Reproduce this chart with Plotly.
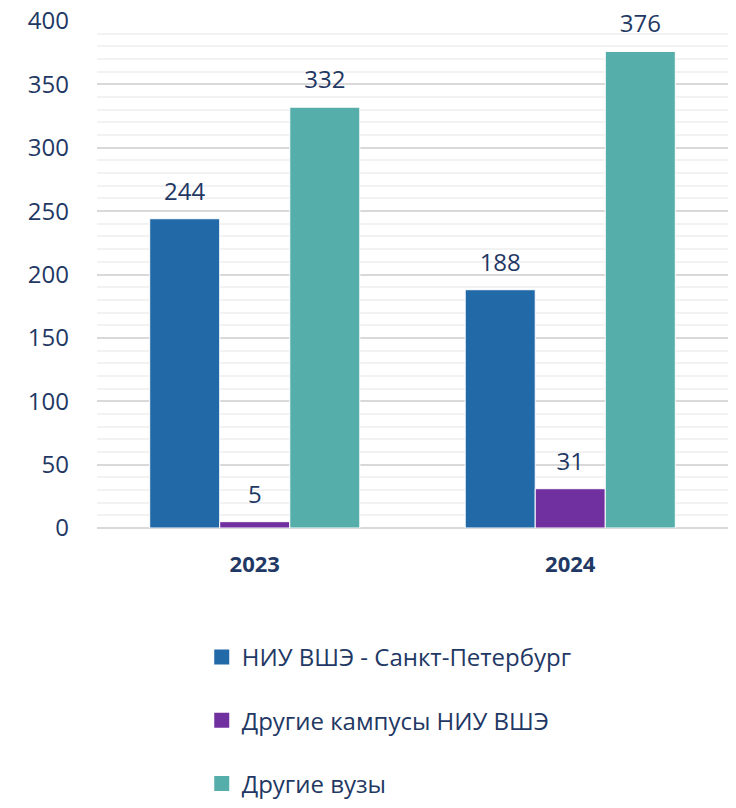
import plotly.graph_objects as go

years = ["2023", "2024"]
series_names = ["НИУ ВШЭ - Санкт-Петербург", "Другие кампусы НИУ ВШЭ", "Другие вузы"]
hse_spb = [244, 188]
hse_other = [5, 31]
other_univ = [332, 376]
colors = ["#2269A8", "#7030A0", "#56AEAB"]
text_color = "#1F3864"
FONT = "Open Sans, Liberation Sans, sans-serif"

fig = go.Figure()
for i, (name, vals) in enumerate(zip(series_names, [hse_spb, hse_other, other_univ])):
    fig.add_trace(go.Bar(
        x=years, y=vals, name=name,
        marker=dict(color=colors[i], line=dict(color="white", width=1)),
        text=[str(v) for v in vals],
        texttemplate="<span style='font-size:24px'>%{text}</span><br>\u00a0",
        textposition="outside", constraintext="none",
        textfont=dict(size=10, color=text_color, family=FONT),
        cliponaxis=False, showlegend=False,
    ))
    # legend entry with a larger square swatch
    fig.add_trace(go.Scatter(
        x=[None], y=[None], mode="markers", name=name,
        marker=dict(symbol="square", size=15, color=colors[i]),
        legendgroup=f"g{i}", showlegend=True,
    ))

fig.update_layout(
    width=736, height=808,
    margin=dict(l=97, r=8, t=21, b=280, autoexpand=False),
    plot_bgcolor="white", paper_bgcolor="white",
    barmode="group", bargap=0.334, bargroupgap=0,
    font=dict(family=FONT, color=text_color, size=24),
    showlegend=True,
    legend=dict(
        orientation="v", x=0.166, xanchor="left", y=-0.211, yanchor="top",
        font=dict(size=24, color=text_color, family=FONT), tracegroupgap=29,
        itemsizing="trace",
    ),
    xaxis=dict(
        showgrid=False, showline=False, ticks="", automargin=False,
        tickfont=dict(size=22, color=text_color, family=FONT, weight="bold"),
        ticklabelstandoff=21,
    ),
    yaxis=dict(
        range=[0, 400], dtick=50, showgrid=True, gridcolor="#D9D9D9", gridwidth=1.5,
        zeroline=True, zerolinecolor="#D9D9D9", zerolinewidth=1.5, automargin=False,
        minor=dict(dtick=10, showgrid=True, gridcolor="#F2F2F2", gridwidth=1.5),
        tickfont=dict(size=24, color=text_color, family=FONT),
        ticklabelstandoff=27, ticklabeloverflow="allow",
    ),
)

fig.write_html("out.html", config={"displayModeBar": False},
               post_script="document.body.style.margin='0';")
